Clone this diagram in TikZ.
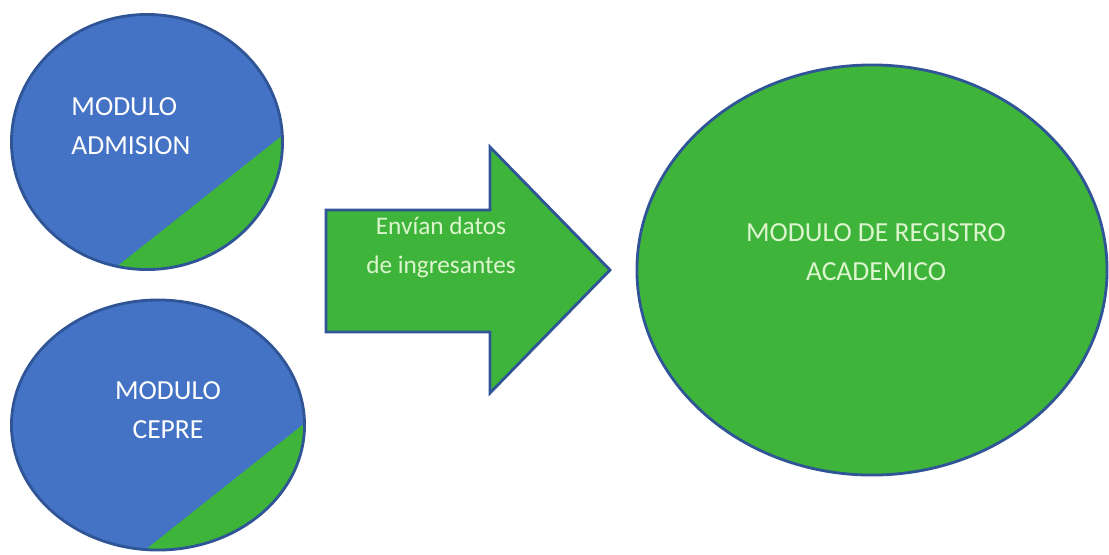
\documentclass[tikz,border=0pt]{standalone}
\usepackage{fontspec}
\setmainfont{Carlito}
\usepackage{tikz}
\usetikzlibrary{positioning,calc,shapes.geometric}
\usepackage{xcolor}
\definecolor{modblue}{HTML}{4472C4}
\definecolor{modgreen}{HTML}{3EB43A}
\definecolor{modline}{HTML}{2F5597}
\definecolor{paletext}{HTML}{DDF5CF}

\tikzset{
  modulo/.style={ellipse,inner sep=0pt,fill=modblue,draw=modline,line width=2pt},
  registro/.style={ellipse,inner sep=0pt,fill=modgreen,draw=modline,line width=2pt},
  flecha/.style={fill=modgreen,draw=modline,line width=2pt},
  rotulo/.style={font=\fontsize{19.6}{27.7}\selectfont,align=center,inner sep=0pt}
}

\begin{document}
\begin{tikzpicture}[x=0.025cm,y=-0.025cm]
\useasboundingbox (0,0) rectangle (1109,554);
% modulos de origen
\node[modulo,minimum width=6.775cm,minimum height=6.375cm,
  path picture={\fill[modgreen] ($(path picture bounding box.center)+(-32,126)$) -- ($(path picture bounding box.center)+(136,-7)$) -- ($(path picture bounding box.center)+(160,-7)$) -- ($(path picture bounding box.center)+(160,160)$) -- ($(path picture bounding box.center)+(-40,160)$) -- cycle;}] (admision) at (147,142) {};
\node[rotulo,align=left,text=white] (txtadm) at (131,126) {MODULO\\ADMISION};
\node[modulo,minimum width=7.325cm,minimum height=6.25cm,
  path picture={\fill[modgreen] ($(path picture bounding box.center)+(-18,129)$) -- ($(path picture bounding box.center)+(147,-2)$) -- ($(path picture bounding box.center)+(170,-2)$) -- ($(path picture bounding box.center)+(170,160)$) -- ($(path picture bounding box.center)+(-30,160)$) -- cycle;}] (cepre) at (158,425) {};
\node[rotulo,text=white] (txtcepre) at (168,410) {MODULO\\CEPRE};
% flecha de envio
\coordinate (punta) at (610,270);
\draw[flecha] (326,210) -- (490,210) -- (490,147) -- (punta) -- (490,393) -- (490,332) -- (326,332) -- cycle;
\node[rotulo,font=\fontsize{18}{27.7}\selectfont,text=paletext] (envio) at (441,247) {Envían datos\\de ingresantes};
% modulo destino
\node[registro,minimum width=11.75cm,minimum height=10.25cm] (registro) at (872,270) {};
\node[rotulo,text=paletext] (txtreg) at (876,252) {MODULO DE REGISTRO\\ACADEMICO};
\end{tikzpicture}
\end{document}
